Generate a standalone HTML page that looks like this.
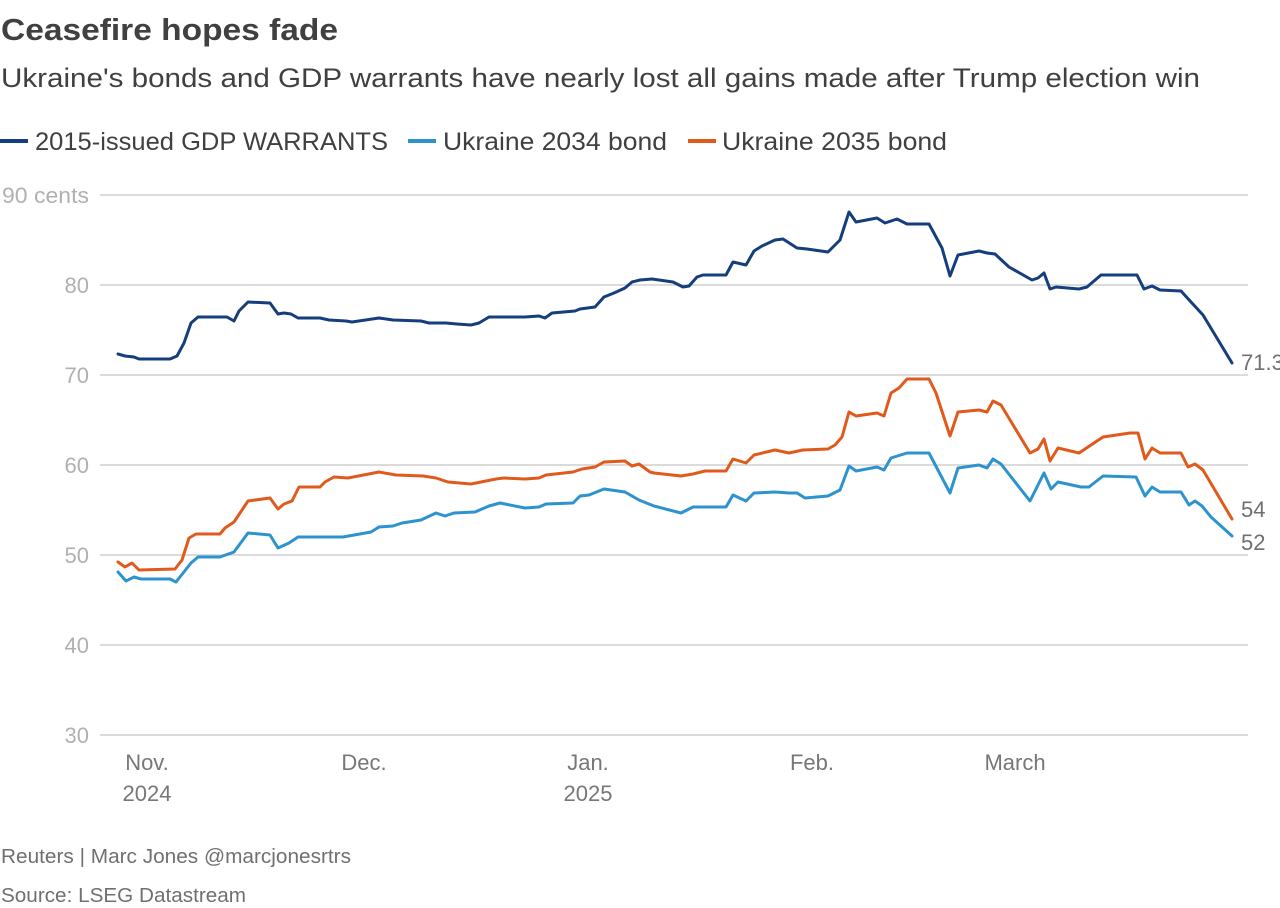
<!DOCTYPE html>
<html><head><meta charset="utf-8"><style>
html,body{margin:0;padding:0;background:#fff;}
svg{display:block;font-family:"Liberation Sans",sans-serif;}
</style></head><body>
<svg width="1280" height="908" viewBox="0 0 1280 908" xmlns="http://www.w3.org/2000/svg">
<text x="1" y="40" font-size="31" font-weight="bold" fill="#404040" textLength="337" lengthAdjust="spacingAndGlyphs">Ceasefire hopes fade</text>
<text x="1" y="87" font-size="27" fill="#404040" textLength="1199" lengthAdjust="spacingAndGlyphs">Ukraine's bonds and GDP warrants have nearly lost all gains made after Trump election win</text>
<g font-size="25" fill="#404040">
<line x1="0" y1="141" x2="28" y2="141" stroke="#153e7c" stroke-width="4"/>
<text x="35" y="150" textLength="353" lengthAdjust="spacingAndGlyphs">2015-issued GDP WARRANTS</text>
<line x1="408" y1="141" x2="436" y2="141" stroke="#2d93cf" stroke-width="4"/>
<text x="443" y="150" textLength="224" lengthAdjust="spacingAndGlyphs">Ukraine 2034 bond</text>
<line x1="688" y1="141" x2="716" y2="141" stroke="#e05a1c" stroke-width="4"/>
<text x="722" y="150" textLength="225" lengthAdjust="spacingAndGlyphs">Ukraine 2035 bond</text>
</g>
<g stroke="#cfcfcf" stroke-width="1.5">
<line x1="100" y1="195" x2="1248" y2="195"/>
<line x1="100" y1="285" x2="1248" y2="285"/>
<line x1="100" y1="375" x2="1248" y2="375"/>
<line x1="100" y1="465" x2="1248" y2="465"/>
<line x1="100" y1="555" x2="1248" y2="555"/>
<line x1="100" y1="645" x2="1248" y2="645"/>
<line x1="100" y1="735" x2="1248" y2="735"/>
</g>
<g font-size="22" fill="#b0b0b0" text-anchor="end">
<text x="89" y="203" textLength="87" lengthAdjust="spacingAndGlyphs">90 cents</text>
<text x="89" y="293">80</text>
<text x="89" y="383">70</text>
<text x="89" y="473">60</text>
<text x="89" y="563">50</text>
<text x="89" y="653">40</text>
<text x="89" y="743">30</text>
</g>
<g font-size="22" fill="#777" text-anchor="middle">
<text x="147" y="770">Nov.</text><text x="147" y="801">2024</text>
<text x="364" y="770">Dec.</text>
<text x="588" y="770">Jan.</text><text x="588" y="801">2025</text>
<text x="812" y="770">Feb.</text>
<text x="1015" y="770">March</text>
</g>
<g fill="none" stroke-width="3" stroke-linejoin="round" stroke-linecap="round">
<polyline stroke="#153e7c" points="118,354 125,356 134,357 139,359 170,359 177,356 184,343 191,323 198,317 227,317 234,321 239,311 248,302 270,303 278,314 284,313 291,314 298,318 320,318 329,320 346,321 352,322 379,318 393,320 421,321 429,323 446,323 457,324 471,325 479,323 489,317 525,317 539,316 545,318 552,313 575,311 580,309 595,307 604,297 614,293 625,288 632,282 640,280 652,279 673,282 683,287 689,286 697,277 703,275 726,275 733,262 746,265 754,251 762,246 775,240 783,239 797,248 807,249 828,252 840,240 849,212 856,222 877,218 885,223 897,219 907,224 929,224 942,248 950,276 958,255 979,251 987,253 995,254 1009,267 1032,280 1038,278 1044,273 1050,289 1056,287 1079,289 1087,287 1101,275 1137,275 1144,289 1152,286 1160,290 1181,291 1191,302 1203,315 1232,363"/>
<polyline stroke="#e05a1c" points="118,562 125,567 132,563 139,570 175,569 182,560 189,538 196,534 220,534 225,528 234,522 248,501 270,498 278,509 284,504 292,501 299,487 320,487 325,482 334,477 348,478 379,472 396,475 423,476 436,478 448,482 471,484 486,481 496,479 504,478 525,479 539,478 546,475 573,472 582,469 595,467 604,462 625,461 632,466 639,464 650,472 654,473 681,476 693,474 705,471 726,471 733,459 746,463 754,455 775,450 789,453 803,450 828,449 835,445 842,437 849,412 856,416 877,413 884,416 891,393 899,388 907,379 929,379 936,393 950,436 958,412 979,410 987,412 993,401 1001,405 1030,453 1038,449 1044,439 1050,461 1058,448 1079,453 1103,437 1130,433 1138,433 1145,459 1152,448 1160,453 1181,453 1188,467 1195,464 1203,470 1232,519"/>
<polyline stroke="#2d93cf" points="118,572 126,581 134,577 141,579 170,579 176,582 191,563 198,557 220,557 234,552 248,533 270,535 278,548 289,543 298,537 343,537 371,532 379,527 393,526 402,523 421,520 436,513 445,516 454,513 475,512 489,506 500,503 525,508 539,507 546,504 573,503 580,496 589,495 604,489 625,492 639,500 654,506 681,513 693,507 726,507 733,495 746,501 754,493 775,492 789,493 797,493 805,498 828,496 840,490 849,466 856,471 877,467 884,470 891,458 907,453 929,453 950,493 958,468 979,465 987,468 993,459 1001,464 1030,501 1044,473 1051,489 1058,482 1081,487 1089,487 1103,476 1136,477 1145,496 1152,487 1160,492 1181,492 1189,505 1195,501 1202,506 1211,517 1232,536"/>
</g>
<g font-size="22" fill="#707070">
<text x="1241" y="370">71.3</text>
<text x="1241" y="517">54</text>
<text x="1241" y="550">52</text>
</g>
<g font-size="20" fill="#707070">
<text x="1" y="863" textLength="350" lengthAdjust="spacingAndGlyphs">Reuters | Marc Jones @marcjonesrtrs</text>
<text x="1" y="902" textLength="245" lengthAdjust="spacingAndGlyphs">Source: LSEG Datastream</text>
</g>
</svg>
</body></html>
